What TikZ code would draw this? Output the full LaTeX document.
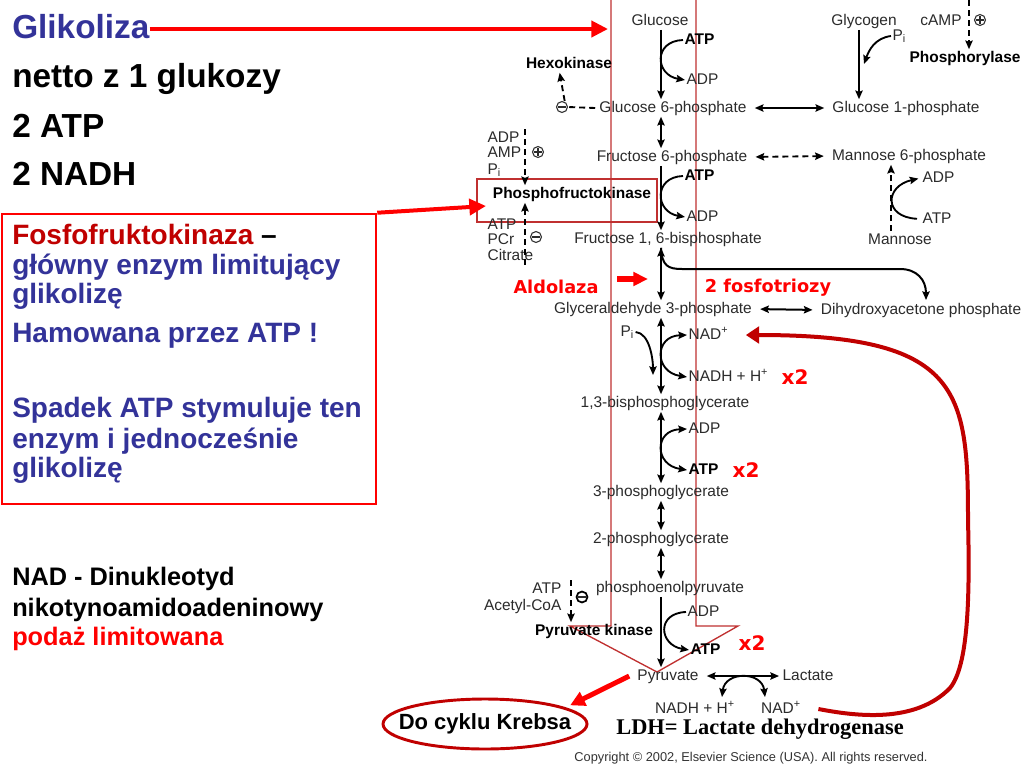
\documentclass[tikz,border=0pt]{standalone}
\usepackage{fontspec}
\setmainfont{Liberation Sans}
\newfontfamily\ldhserif{Liberation Serif}
\newfontfamily\notesans{DejaVu Sans}
\usepackage{xcolor}
\usepackage{tikz}
\usetikzlibrary{arrows.meta,shapes.geometric}

\definecolor{titleblue}{HTML}{333399}
\definecolor{darkred}{HTML}{C00000}
\definecolor{alertred}{HTML}{FF0000}
\definecolor{framered}{HTML}{C03030}
\definecolor{chemgray}{HTML}{2B2B2B}

\newcommand{\glChem}{\fontsize{11.6}{12}\selectfont}
\newcommand{\glTitle}{\fontsize{25}{30}\selectfont\bfseries}
\newcommand{\glBox}{\fontsize{21}{25}\selectfont\bfseries}
\newcommand{\glNad}{\fontsize{19}{23}\selectfont\bfseries}
\newcommand{\glNote}{\notesans\fontsize{13.3}{15}\selectfont\bfseries}
\newcommand{\glTimes}{\notesans\fontsize{15}{17}\selectfont\bfseries}

\begin{document}
\begin{tikzpicture}[x=0.75pt, y=-0.75pt,
  >={Stealth[length=6.5pt,width=5.5pt,inset=1pt]},
  chem/.style={font=\glChem, text=chemgray, inner sep=1pt, text height=8.4pt, text depth=2.4pt},
  enzyme/.style={chem, font=\glChem\bfseries, text=black},
  sign/.style={circle, draw=chemgray, line width=0.8pt, minimum size=8.2pt, inner sep=0pt},
  signminus/.style={sign, path picture={\draw[chemgray, line width=0.8pt] ([xshift=1.4pt]path picture bounding box.west) -- ([xshift=-1.4pt]path picture bounding box.east);}},
  signplus/.style={sign, path picture={\draw[chemgray, line width=0.8pt] ([xshift=1.4pt]path picture bounding box.west) -- ([xshift=-1.4pt]path picture bounding box.east) ([yshift=-1.4pt]path picture bounding box.north) -- ([yshift=1.4pt]path picture bounding box.south);}},
  rxn/.style={->, line width=1.5pt, black},
  rev/.style={<->, line width=1.5pt, black},
  cofac/.style={->, line width=1.4pt, black},
  cofacrev/.style={<->, line width=1.4pt, black},
  regline/.style={line width=1.4pt, black, dash pattern=on 4.5pt off 3pt},
  regarrow/.style={regline, ->},
  headline/.style={font=\glTitle, anchor=base west, inner sep=0pt},
  boxline/.style={font=\glBox, text=titleblue, anchor=base west, inner sep=0pt},
  nadline/.style={font=\glNad, anchor=base west, inner sep=0pt},
  note/.style={font=\glNote, text=alertred, inner sep=0pt},
  times/.style={font=\glTimes, text=alertred, inner sep=0pt},
  redarrow/.style={draw=alertred, line width=3pt, -{Triangle[length=12.5pt,width=12pt]}},
  ldharrow/.style={draw=darkred, line width=3pt, -{Triangle[length=10pt,width=12.5pt]}},
]
  \fill[white] (0,0) rectangle (1024,768);
  \useasboundingbox (0,0) rectangle (1024,768);

  % helper points
  \coordinate (axis) at (661,0);
  \coordinate (glyax) at (859,0);
  \coordinate (campax) at (969,0);
  \coordinate (manax) at (891,0);
  \coordinate (pfkax) at (525,0);
  \coordinate (pkax) at (571,0);
  \coordinate (glcin) at (608,29);
  \coordinate (pfkin) at (486,206);
  \coordinate (aldoA) at (617,279);
  \coordinate (aldoB) at (648,279);
  \coordinate (dhapin) at (926,300);
  \coordinate (piGend) at (864,64);
  \coordinate (piNend) at (653,375);
  \coordinate (ldhL) at (722,697);
  \coordinate (ldhR) at (765,697);

  % left column texts
  \node[headline, text=titleblue] (glik) at (12,38) {Glikoliza};
  \node[headline] (netto) at (12,87) {netto z 1 glukozy};
  \node[headline] (natp) at (12,137) {2 ATP};
  \node[headline] (nnadh) at (12,185) {2 NADH};

  \node[draw=alertred, line width=1.9pt, minimum width=280.5pt, minimum height=217.5pt, inner sep=0pt] (fbox) at (189,359) {};
  \node[boxline, text=black] (fk1) at (12,244) {\textcolor{darkred}{Fosfofruktokinaza} –};
  \node[boxline] (fk2) at (12,274) {główny enzym limitujący};
  \node[boxline] (fk3) at (12,303) {glikolizę};
  \node[boxline] (fk4) at (12,342) {Hamowana przez ATP !};
  \node[boxline] (fk5) at (12,417) {Spadek ATP stymuluje ten};
  \node[boxline] (fk6) at (12,448) {enzym i jednocześnie};
  \node[boxline] (fk7) at (12,477) {glikolizę};

  \node[nadline] (nad1) at (12,585) {NAD - Dinukleotyd};
  \node[nadline] (nad2) at (12,616) {nikotynoamidoadeninowy};
  \node[nadline, text=alertred] (nad3) at (12,645) {podaż limitowana};

  % big red outline arrow
  \draw[framered, line width=1pt] (611,-1) -- (611,626) -- (570,626) -- (657,672) -- (738,626) -- (696,626) -- (696,-1);

  % pathway
  \node[chem] (glc) at (660,21) {Glucose};
  \node[enzyme, anchor=west] (atpA) at (683,40) {ATP};
  \node[chem, anchor=west] (adpA) at (685,80) {ADP};
  \node[enzyme] (hexo) at (569,64) {Hexokinase};
  \node[signminus] (hexminus) at (562,107) {};
  \node[chem] (g6p) at (673,108) {Glucose 6-phosphate};
  \node[chem] (g1p) at (906,108) {Glucose 1-phosphate};
  \node[chem] (glycogen) at (864,21) {Glycogen};
  \node[chem, anchor=west] (piG) at (891,36) {P\textsubscript{i}};
  \node[chem] (camp) at (941,21) {cAMP};
  \node[signplus] (campplus) at (980,20) {};
  \node[enzyme] (phosph) at (965,58) {Phosphorylase};
  \node[chem] (f6p) at (672,157) {Fructose 6-phosphate};
  \node[chem] (m6p) at (909,156) {Mannose 6-phosphate};
  \node[chem, anchor=west] (adpM) at (921,178) {ADP};
  \node[chem, anchor=west] (atpM) at (921,219) {ATP};
  \node[chem] (mannose) at (900,240) {Mannose};

  \node[chem, anchor=west] (adpR) at (486,138) {ADP};
  \node[chem, anchor=west] (ampR) at (486,153) {AMP};
  \node[chem, anchor=west] (piR) at (486,170) {P\textsubscript{i}};
  \node[signplus] (pfkplus) at (538,152) {};
  \node[draw=framered, line width=1.1pt, minimum width=135pt, minimum height=32.25pt, inner sep=0pt] (pfkbox) at (567,200.5) {};
  \node[enzyme] (pfk) at (572,194) {Phosphofructokinase};
  \node[chem, anchor=west] (atpR) at (486,225) {ATP};
  \node[chem, anchor=west] (pcrR) at (486,240) {PCr};
  \node[chem, anchor=west] (citR) at (486,256) {Citrate};
  \node[signminus] (pfkminus) at (536,237) {};

  \node[enzyme, anchor=west] (atpB) at (683,176) {ATP};
  \node[chem, anchor=west] (adpB) at (685,217) {ADP};
  \node[chem] (f16bp) at (668,239) {Fructose 1, 6-bisphosphate};
  \node[note] (aldo) at (556,287) {Aldolaza};
  \node[note] (fosfo) at (768,288) {2 fosfotriozy};
  \node[chem] (gap) at (653,309) {Glyceraldehyde 3-phosphate};
  \node[chem] (dhap) at (921,310) {Dihydroxyacetone phosphate};
  \node[chem, anchor=west] (piN) at (619,332) {P\textsubscript{i}};
  \node[chem, anchor=west] (nad) at (687,335) {NAD\textsuperscript{+}};
  \node[chem, anchor=west] (nadh) at (687,377) {NADH + H\textsuperscript{+}};
  \node[times] (xNadh) at (795,377) {x2};
  \node[chem] (bpg) at (665,403) {1,3-bisphosphoglycerate};
  \node[chem, anchor=west] (adpC) at (687,429) {ADP};
  \node[enzyme, anchor=west] (atpC) at (687,470) {ATP};
  \node[times] (xAtp) at (746,470) {x2};
  \node[chem] (pg3) at (661,492) {3-phosphoglycerate};
  \node[chem] (pg2) at (661,539) {2-phosphoglycerate};
  \node[chem] (pep) at (670,588) {phosphoenolpyruvate};
  \node[chem, anchor=east] (atpI) at (563,589) {ATP};
  \node[chem, anchor=east] (acoa) at (563,606) {Acetyl-CoA};
  \node[signminus, draw=black, line width=1.3pt] (pkminus) at (582,597) {};
  \node[enzyme] (pk) at (594,631) {Pyruvate kinase};
  \node[chem, anchor=west] (adpD) at (686,612) {ADP};
  \node[enzyme, anchor=west] (atpD) at (689,650) {ATP};
  \node[times] (xPk) at (752,643) {x2};
  \node[chem] (pyr) at (668,676) {Pyruvate};
  \node[chem] (lac) at (808,676) {Lactate};
  \node[chem] (nadhL) at (695,709) {NADH + H\textsuperscript{+}};
  \node[chem] (nadL) at (781,709) {NAD\textsuperscript{+}};

  \node[ellipse, draw=darkred, line width=2.2pt, minimum width=153pt, minimum height=37.5pt, inner sep=0pt] (krebs) at (485,724) {};
  \node[font=\fontsize{16.5}{18}\selectfont\bfseries, inner sep=0pt] (krebstxt) at (krebs) {Do cyklu Krebsa};
  \node[font=\ldhserif\fontsize{16.8}{18}\selectfont\bfseries, inner sep=0pt] (ldh) at (760,729) {LDH= Lactate dehydrogenase};
  \node[font=\fontsize{9.6}{11}\selectfont, text=black!80, inner sep=0pt] (copy) at (751,758) {Copyright © 2002, Elsevier Science (USA). All rights reserved.};

  % main chain
  \draw[rxn] (glc.south -| axis) -- (g6p.north -| axis);
  \draw[rev] (g6p.south -| axis) -- (f6p.north -| axis);
  \draw[rxn] (f6p.south -| axis) -- (f16bp.north -| axis);
  \draw[rev] (f16bp.south -| axis) -- (gap.north -| axis);
  \draw[rev] (gap.south -| axis) -- (bpg.north -| axis);
  \draw[rev] (bpg.south -| axis) -- (pg3.north -| axis);
  \draw[rev] (pg3.south -| axis) -- (pg2.north -| axis);
  \draw[rev] (pg2.south -| axis) -- (pep.north -| axis);
  \draw[rxn] (pep.south -| axis) -- (pyr.north -| axis);
  \draw[rxn] (f16bp.south -| axis) .. controls (662,266) and (668,269) .. (682,269) -- (900,269) .. controls (917,269) and (926,280) .. (dhapin);

  % side branches
  \draw[rev, shorten <=5pt, shorten >=5pt] (g6p.east) -- (g1p.west);
  \draw[regline, <->, shorten <=5pt, shorten >=5pt] (f6p.east) -- (m6p.west);
  \draw[rev, shorten <=5pt, shorten >=5pt] (gap.east) -- (dhap.west);
  \draw[rev, shorten <=5pt, shorten >=1.5pt] (pyr.east) -- (lac.west);
  \draw[rxn] (glycogen.south -| glyax) -- (g1p.north -| glyax);
  \draw[regarrow] (campax) -- (phosph.north -| campax);
  \draw[regarrow] (mannose.north -| manax) -- (m6p.south -| manax);

  % cofactors
  \draw[cofac] (atpA.west) .. controls +(-30,1) and +(-30,-5) .. (adpA.west);
  \draw[cofac] (atpB.west) .. controls +(-30,1) and +(-30,-5) .. (adpB.west);
  \draw[cofacrev] (nad.west) .. controls +(-33,1) and +(-33,-5) .. (nadh.west);
  \draw[cofacrev] (adpC.west) .. controls +(-33,1) and +(-33,-5) .. (atpC.west);
  \draw[cofac] (adpD.west) .. controls +(-30,1) and +(-30,-5) .. (atpD.west);
  \draw[cofac] (piN.east) .. controls +(14,1) and +(0,-16) .. (piNend);
  \draw[cofac] (piG.west) .. controls +(-16,2) and +(5,-14) .. (piGend);
  \draw[cofac, shorten <=3pt, shorten >=2pt] (atpM.west) .. controls +(-38,-2) and +(-36,8) .. (adpM.west);
  \draw[cofacrev] (ldhL) .. controls +(3,-26) and +(-3,-26) .. (ldhR);

  % regulation
  \draw[regline] ([xshift=-2pt]g6p.west) -- (hexminus.east);
  \draw[regarrow] ([xshift=2pt]hexminus.north) -- ([xshift=-7pt]hexo.south);
  \draw[regarrow] (adpR.north -| pfkax) -- (pfk.north -| pfkax);
  \draw[regarrow] (citR.south -| pfkax) -- (pfk.south -| pfkax);
  \draw[regarrow] (atpI.north -| pkax) -- (pk.north -| pkax);

  % red pointers
  \draw[redarrow] ([yshift=6.75pt]glik.base east) -- (glcin);
  \draw[redarrow] (fbox.north east) -- (pfkin);
  \draw[draw=alertred, line width=4.5pt, -{Triangle[length=11pt,width=10pt]}] (aldoA) -- (aldoB);
  \draw[draw=alertred, line width=3.75pt, -{Triangle[length=11pt,width=11pt]}] ([xshift=-5pt]pyr.west) -- ([xshift=9pt]krebs.north east);
  \draw[ldharrow] ([xshift=12pt]nadL.east) .. controls (855,716) and (915,724) .. (950,688) .. controls (968,666) and (970,600) .. (968,520) .. controls (968,390) and (960,335) .. ([xshift=12pt]nad.east);
\end{tikzpicture}
\end{document}
